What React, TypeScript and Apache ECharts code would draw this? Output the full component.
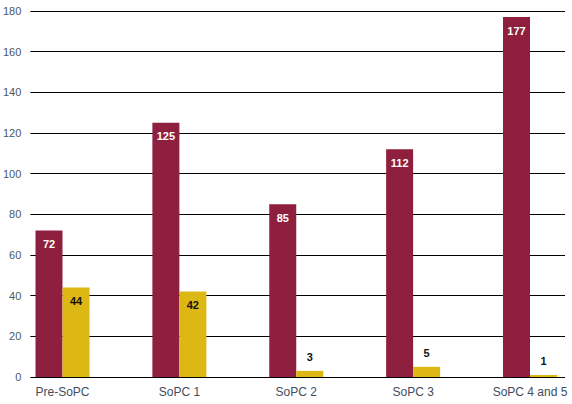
import React, { useEffect, useRef } from "react";
import * as echarts from "echarts";

const categories = ["Pre-SoPC", "SoPC 1", "SoPC 2", "SoPC 3", "SoPC 4 and 5"];
const seriesA = [72, 125, 85, 112, 177];
const seriesB = [44, 42, 3, 5, 1];
const yTicks = { min: 0, max: 180, interval: 20 };

const MAROON = "#8E1F3E";
const GOLD = "#DDB713";
const FONT = "Liberation Sans, Arial, sans-serif";

export default function App() {
  const ref = useRef<HTMLDivElement>(null);
  useEffect(() => {
    if (!ref.current) return;
    const chart = echarts.init(ref.current, undefined, { renderer: "svg" });
    chart.setOption({
      animation: false,
      backgroundColor: "#ffffff",
      grid: [
        { left: 62.5, right: 42, top: 11, bottom: 27 },
        { left: 27, right: 7, top: 11, bottom: 27 },
      ],
      xAxis: [
        {
          gridIndex: 0,
          type: "category",
          data: categories,
          boundaryGap: false,
          axisLine: { show: false },
          axisTick: { show: false },
          axisLabel: {
            margin: 9,
            fontSize: 12,
            color: "#3f4d5e",
            fontFamily: FONT,
            interval: 0,
          },
          z: 5,
        },
        {
          gridIndex: 1,
          type: "value",
          min: 0,
          max: 1,
          show: false,
          splitLine: { show: false },
        },
      ],
      yAxis: [
        {
          gridIndex: 0,
          type: "value",
          min: yTicks.min,
          max: yTicks.max,
          interval: yTicks.interval,
          show: false,
          splitLine: { show: false },
        },
        {
          gridIndex: 1,
          type: "value",
          min: yTicks.min,
          max: yTicks.max,
          interval: yTicks.interval,
          axisLine: { show: false },
          axisTick: { show: false },
          axisLabel: {
            margin: 9,
            fontSize: 11,
            color: "#4a5868",
            fontFamily: FONT,
          },
          splitLine: { show: true, lineStyle: { color: "#000000", width: 1 } },
        },
      ],
      series: [
        {
          type: "bar",
          xAxisIndex: 0,
          yAxisIndex: 0,
          data: seriesA,
          barWidth: 27,
          barGap: "0%",
          clip: false,
          itemStyle: { color: MAROON },
          label: {
            show: true,
            position: "insideTop",
            distance: 8,
            color: "#ffffff",
            fontWeight: "bold",
            fontSize: 11,
            fontFamily: FONT,
          },
        },
        {
          type: "bar",
          xAxisIndex: 0,
          yAxisIndex: 0,
          barWidth: 27,
          barGap: "0%",
          clip: false,
          itemStyle: { color: GOLD },
          data: seriesB.map((v) => ({
            value: v,
            label: { position: v < 10 ? "top" : "insideTop" },
          })),
          label: {
            show: true,
            position: "insideTop",
            distance: 8,
            color: "#111111",
            fontWeight: "bold",
            fontSize: 11,
            fontFamily: FONT,
          },
        },
      ],
    });
    return () => chart.dispose();
  }, []);
  return <div ref={ref} style={{ width: 572, height: 404, position: "absolute", left: 0, top: 0 }} />;
}
